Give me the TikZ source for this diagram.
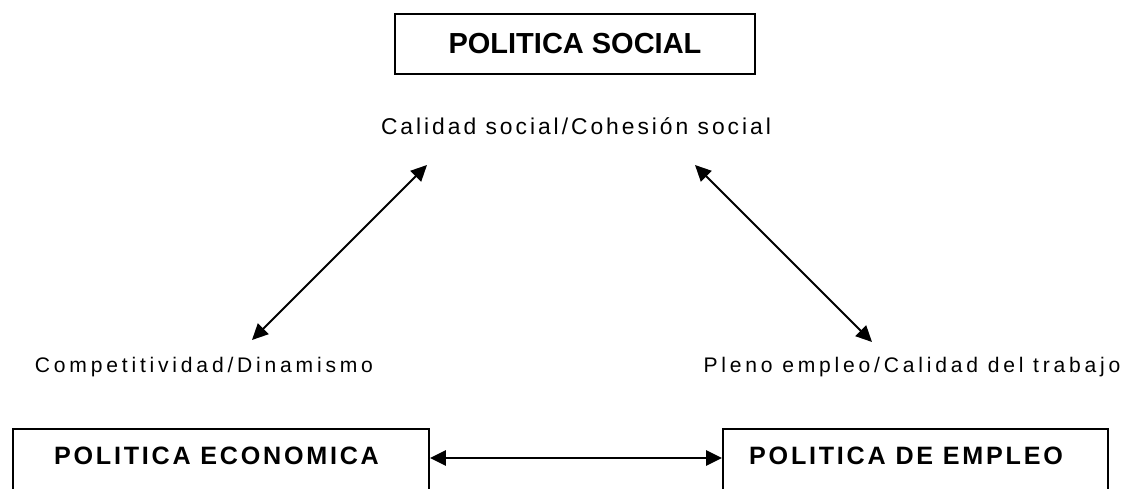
\documentclass[tikz,border=0pt]{standalone}
\usepackage{fontspec}
\setmainfont{Liberation Sans}
\newfontfamily\labelfont[LetterSpace=18]{Liberation Sans}
\newfontfamily\calfont[LetterSpace=13]{Liberation Sans}
\newfontfamily\polfont[LetterSpace=11]{Liberation Sans}
\usetikzlibrary{arrows.meta}
\newcommand{\tip}{Triangle[length=3.2mm,width=3mm]}

\begin{document}
\begin{tikzpicture}[x=0.02cm,y=-0.02cm,
  box/.style={draw,line width=1.1pt,inner sep=0pt},
  link/.style={line width=1.1pt,{\tip}-{\tip}},
  txt/.style={inner sep=0pt,anchor=base}]
\clip (0,0) rectangle (1137,489);
\fill[white] (0,0) rectangle (1137,489);
%boxes
\node[box,minimum width=7.2cm,minimum height=1.2cm,font=\bfseries\fontsize{16.5}{18}\selectfont] (social) at (575,44) {POLITICA SOCIAL};
\node[box,minimum width=8.32cm,minimum height=2cm] (eco) at (221,479) {};
\node[box,minimum width=7.7cm,minimum height=2cm] (emp) at (915.5,479) {};
\node[txt,font=\polfont\bfseries\fontsize{14.3}{16}\selectfont] (ecotxt) at (216.5,465) {POLITICA ECONOMICA};
\node[txt,font=\polfont\bfseries\fontsize{14.3}{16}\selectfont] (emptxt) at (906,465) {POLITICA DE EMPLEO};
%labels
\node[txt,font=\calfont\fontsize{13}{15}\selectfont] (calidad) at (576,135) {Calidad social/Cohesión social};
\node[txt,font=\labelfont\fontsize{12}{14}\selectfont] (comp) at (204,373) {Competitividad/Dinamismo};
\node[txt,font=\labelfont\fontsize{12}{14}\selectfont] (pleno) at (912,373) {Pleno empleo/Calidad del trabajo};
%arrows
\coordinate (cal1) at (427,165);
\coordinate (cal2) at (695,165);
\coordinate (comp1) at (252,340);
\coordinate (pleno1) at (872,342);
\coordinate (mid) at (575,458);
\draw[link] (comp1) -- (cal1);
\draw[link] (cal2) -- (pleno1);
\draw[link,line width=1.5pt] (eco.east |- mid) -- (emp.west |- mid);
\end{tikzpicture}
\end{document}
